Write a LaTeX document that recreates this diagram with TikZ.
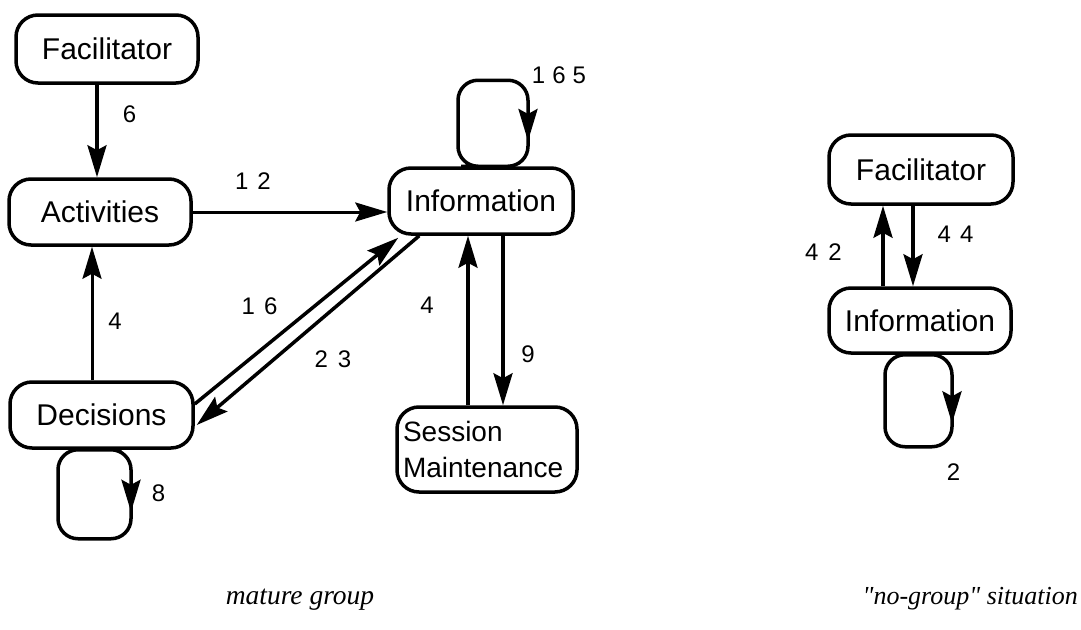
\documentclass[tikz,border=0pt]{standalone}
\usepackage{fontspec}
\setmainfont{Liberation Sans}
\newfontfamily\capfamily{Liberation Serif}
\usetikzlibrary{arrows.meta,decorations.markings}

\newcommand\boxfont{\fontsize{30pt}{36pt}\selectfont}
\newcommand\twolinefont{\fontsize{28pt}{36pt}\selectfont}
\newcommand\numfont{\fontsize{24pt}{28pt}\selectfont}
\newcommand\capfont{\capfamily\itshape\fontsize{26pt}{31pt}\selectfont}
\newcommand\bigcapfont{\capfamily\itshape\fontsize{27.5pt}{32pt}\selectfont}

\tikzset{
  box/.style={draw, line width=3.5pt, rounded corners=22pt, inner sep=0pt, font=\boxfont},
  tipshape/.tip={Stealth[length=32pt, width=19pt, inset=5pt]},
  flow/.style={line width=3.5pt, -tipshape},
  thinflow/.style={flow, line width=3pt},
  loopline/.style={line width=3.5pt, rounded corners=20pt, postaction=decorate,
    decoration={markings, mark=at position #1 with {\arrow{tipshape}}}},
  num/.style={font=\numfont, inner sep=0pt},
  caption/.style={font=\capfont, inner sep=0pt},
}

\begin{document}
\begin{tikzpicture}[x=1pt, y=-1pt]
  \useasboundingbox[fill=white] (0,0) rectangle (1081,629);

  % mature group
  \node[box, minimum width=182pt, minimum height=68pt] (fac) at (107,49) {Facilitator};
  \node[box, minimum width=182pt, minimum height=66pt] (act) at (100,212) {Activities};
  \node[box, minimum width=184pt, minimum height=66pt] (info) at (481,201) {Information};
  \node[box, minimum width=183pt, minimum height=66pt] (dec) at (101.5,415) {Decisions};
  \node[box, font=\twolinefont, minimum height=85pt, align=left, text width=168pt, inner xsep=6pt] (sess) at (487,449.5) {Session\\Maintenance};

  \draw[flow] ([xshift=-10pt]fac.south) -- ([xshift=-3pt]act.north);
  \draw[thinflow] (act.east) -- ([yshift=-11pt]info.west);
  \draw[thinflow] ([xshift=-9.5pt]dec.north) -- ([xshift=-8pt]act.south);
  \draw[flow] ([yshift=11pt]dec.east) -- ([xshift=11pt,yshift=-2pt]info.south west);
  \draw[flow] ([xshift=32pt]info.south west) -- ([xshift=2pt,yshift=-10pt]dec.east);
  \draw[flow] ([xshift=-19pt]sess.north) -- ([xshift=-13pt]info.south);
  \draw[flow] ([xshift=22pt]info.south) -- ([xshift=16pt]sess.north);

  % self loops
  \draw[loopline=228pt] (info.north) -- ++(-23,0) -- ++(0,-86) -- ++(70,0) -- ++(0,86) -- cycle;
  \draw[loopline=84pt] (dec.south) -- ++(29.5,0) -- ++(0,89) -- ++(-73,0) -- ++(0,-89) -- cycle;

  % counts
  \node[num] (n6) at (129.5,114.5) {6};
  \node[num] (n12) at (253,181) {1\kern9pt2};
  \node[num] (n4a) at (115,321) {4};
  \node[num] (n16) at (259.5,306) {1\kern9pt6};
  \node[num] (n23) at (333,359) {2\kern10pt3};
  \node[num] (n165) at (559,75.5) {1\kern7pt6\kern7pt5};
  \node[num] (n4b) at (427,305.5) {4};
  \node[num] (n9) at (528,354) {9};
  \node[num] (n8) at (158.5,493.5) {8};

  % no-group situation
  \node[box, minimum width=184pt, minimum height=69pt] (facR) at (921,169.5) {Facilitator};
  \node[box, minimum width=182pt, minimum height=65pt] (infR) at (920,320.5) {Information};

  \draw[flow] ([xshift=-37pt]infR.north) -- ([xshift=-38pt]facR.south);
  \draw[flow] ([xshift=-8pt]facR.south) -- ([xshift=-7pt]infR.north);
  \draw[loopline=88pt] (infR.south) -- ++(32,0) -- ++(0,92) -- ++(-67,0) -- ++(0,-92) -- cycle;

  \node[num] (n42) at (823.5,252.5) {4\kern10pt2};
  \node[num] (n44) at (955.5,234.5) {4\kern9pt4};
  \node[num] (n2) at (953.5,472) {2};

  % captions
  \node[caption, font=\bigcapfont, anchor=base] (capL) at (300,604) {mature group};
  \node[caption, anchor=base east] (capR) at (1078,604) {"no-group" situation};
\end{tikzpicture}
\end{document}
